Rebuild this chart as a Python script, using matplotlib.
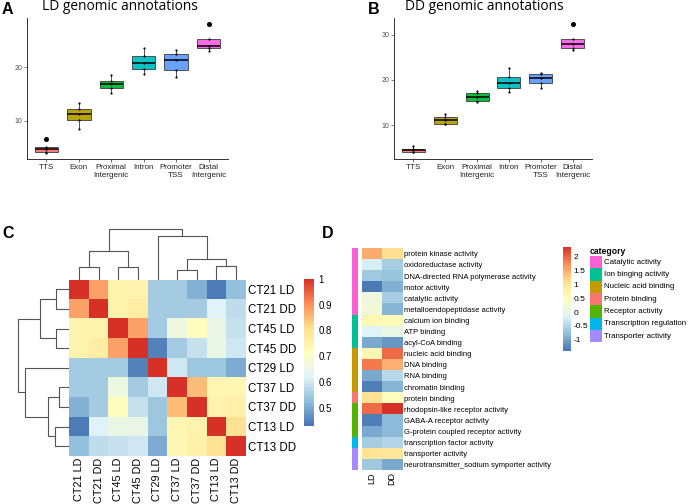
import numpy as np
import matplotlib
matplotlib.use("Agg")
import matplotlib.pyplot as plt
from matplotlib.colors import LinearSegmentedColormap, ListedColormap
from matplotlib.patches import Rectangle

plt.rcParams['font.family'] = ['Liberation Sans', 'DejaVu Sans']

# ---- panels A / B: genomic annotation boxplots ----
annotations = ["TTS", "Exon", "Proximal\nIntergenic", "Intron", "Promoter\nTSS", "Distal\nIntergenic"]
ld_values = [
    [4.1, 4.3, 4.76, 5.2, 6.7],
    [8.5, 10.1, 11.3, 12.3, 13.4],
    [15.2, 16.2, 16.85, 17.5, 18.5],
    [18.8, 19.7, 20.8, 22.0, 23.6],
    [18.1, 19.5, 21.35, 22.35, 23.2],
    [23.0, 23.6, 24.0, 25.3, 28.0],
]
dd_values = [
    [4.0, 4.17, 4.5, 4.83, 5.3],
    [10.2, 10.33, 11.05, 11.87, 12.4],
    [15.2, 15.4, 16.1, 17.0, 17.5],
    [17.3, 18.1, 19.2, 20.6, 22.5],
    [18.3, 19.2, 20.3, 21.3, 21.4],
    [26.6, 27.1, 27.85, 29.0, 32.3],
]
box_colors = ["#F8766D", "#B79F00", "#00BA38", "#00BFC4", "#619CFF", "#F564E3"]

# ---- panel C: sample correlation heatmap ----
samples = ["CT21 LD", "CT21 DD", "CT45 LD", "CT45 DD", "CT29 LD",
           "CT37 LD", "CT37 DD", "CT13 LD", "CT13 DD"]
corr = np.array([
    [1.00, 0.88, 0.75, 0.75, 0.55, 0.55, 0.51, 0.44, 0.53],
    [0.88, 1.00, 0.75, 0.77, 0.55, 0.55, 0.55, 0.62, 0.58],
    [0.75, 0.75, 1.00, 0.88, 0.55, 0.66, 0.72, 0.65, 0.59],
    [0.75, 0.77, 0.88, 1.00, 0.45, 0.55, 0.59, 0.65, 0.60],
    [0.55, 0.55, 0.55, 0.45, 1.00, 0.60, 0.54, 0.54, 0.50],
    [0.55, 0.55, 0.66, 0.55, 0.60, 1.00, 0.85, 0.74, 0.74],
    [0.51, 0.55, 0.72, 0.59, 0.54, 0.85, 1.00, 0.75, 0.76],
    [0.44, 0.62, 0.65, 0.65, 0.54, 0.74, 0.75, 1.00, 0.80],
    [0.53, 0.58, 0.59, 0.60, 0.50, 0.74, 0.76, 0.80, 1.00],
])
# merges (left node, right node, height); new nodes numbered from 9
merges = [
    (0, 1, 11.8),
    (2, 3, 12.2),
    (5, 6, 9.4),
    (7, 8, 12.6),
    (11, 12, 20.5),
    (9, 10, 27.8),
    (4, 13, 42.8),
    (14, 15, 50.0),
]

# ---- panel D: GO term heatmap ----
go_terms = [
    "protein kinase activity", "oxidoreductase activity",
    "DNA-directed RNA polymerase activity", "motor activity",
    "catalytic activity", "metalloendopeptidase activity",
    "calcium ion binding", "ATP binding", "acyl-CoA binding",
    "nucleic acid binding", "DNA binding", "RNA binding", "chromatin binding",
    "protein binding", "rhodopsin-like receptor activity",
    "GABA-A receptor activity", "G-protein coupled receptor activity",
    "transcription factor activity", "transporter activity",
    "neurotransmitter_sodium symporter activity",
]
go_category = [0, 0, 0, 0, 0, 0, 1, 1, 1, 2, 2, 2, 2, 3, 4, 4, 4, 5, 6, 6]
go_ld = [1.5, -0.2, -0.65, -1.35, 0.15, 0.2, 0.6, -0.15, -0.95, 0.65,
         1.85, -0.95, -1.3, 1.05, 1.95, -1.3, -0.95, -0.6, 1.0, -0.65]
go_dd = [1.1, -0.6, -0.7, -0.9, -0.6, -0.85, 0.55, 0.05, -1.1, 1.95,
         1.45, -0.45, -0.85, 0.5, 2.35, -0.8, -0.8, -0.5, 0.95, -0.95]
go_columns = ["LD", "DD"]
category_names = ["Catalytic activity", "Ion binging activity", "Nucleic acid binding",
                  "Protein binding", "Receptor activity", "Transcription regulation",
                  "Transporter activity"]
category_colors = ["#FB61D7", "#00C094", "#C49A00", "#F8766D", "#53B400", "#00B6EB", "#A58AFF"]

pheat = LinearSegmentedColormap.from_list(
    "pheat", ["#4575B4", "#91BFDB", "#E0F3F8", "#FFFFBF", "#FEE090", "#FC8D59", "#D73027"])

W, H = 689, 504
fig = plt.figure(figsize=(W / 100, H / 100), dpi=100)


def px_axes(x0, y0, x1, y1):
    return fig.add_axes([x0 / W, 1 - y1 / H, (x1 - x0) / W, (y1 - y0) / H])


def px_text(x, y, s, **kw):
    fig.text(x / W, 1 - y / H, s, **kw)


def box_panel(ax, values, yticks):
    pos = np.arange(1, len(values) + 1)
    bp = ax.boxplot(values, positions=pos, widths=0.72, patch_artist=True, showcaps=False,
                    medianprops=dict(color="black", lw=1.1),
                    whiskerprops=dict(color="#333333", lw=0.6),
                    boxprops=dict(edgecolor="#333333", lw=0.6),
                    flierprops=dict(marker="o", markersize=2.6, markerfacecolor="black",
                                    markeredgecolor="black"))
    for patch, c in zip(bp["boxes"], box_colors):
        patch.set_facecolor(c)
        patch.set_alpha(0.95)
        patch.set_edgecolor("#333333")
    for p, v in zip(pos, values):
        ax.scatter(np.full(len(v), p), v, s=2.5, color="black", zorder=4, lw=0)
    allv = np.concatenate(values)
    rng = allv.max() - allv.min()
    ax.set_ylim(allv.min() - 0.05 * rng, allv.max() + 0.05 * rng)
    ax.set_xlim(0.4, len(values) + 0.6)
    ax.set_xticks(pos)
    ax.set_xticklabels(annotations, fontsize=5.8, color="#222222", linespacing=1.2)
    ax.set_yticks(yticks)
    ax.tick_params(axis="y", labelsize=5, colors="#4d4d4d", length=2, width=0.5, pad=1.5)
    ax.tick_params(axis="x", length=2, width=0.5, pad=1.5, color="#333333")
    for s in ["top", "right"]:
        ax.spines[s].set_visible(False)
    for s in ["left", "bottom"]:
        ax.spines[s].set_color("#333333")
        ax.spines[s].set_linewidth(0.7)


axA = px_axes(27, 17.7, 228, 159)
box_panel(axA, ld_values, [10, 20])
axB = px_axes(394.3, 17.7, 591.7, 158.7)
box_panel(axB, dd_values, [10, 20, 30])

px_text(41.7, 10.5, "LD genomic annotations", fontsize=9.9, family="Open Sans", va="baseline")
px_text(405, 10.5, "DD genomic annotations", fontsize=9.9, family="Open Sans", va="baseline")
for lab, x, y in [("A", 1.5, 13.5), ("B", 368, 13.5), ("C", 2, 238), ("D", 321.5, 238)]:
    px_text(x, y, lab, fontsize=11.5, fontweight="bold", va="baseline")

# ---- panel C ----
n = len(samples)
axC = px_axes(69.3, 279.5, 245.7, 456)
imC = axC.imshow(corr, cmap=pheat, vmin=0.43, vmax=1.0, aspect="auto",
                 extent=(0, n, n, 0), interpolation="nearest")
axC.yaxis.tick_right()
axC.set_yticks(np.arange(n) + 0.5)
axC.set_yticklabels(samples, fontsize=8.3)
axC.set_xticks(np.arange(n) + 0.5)
axC.set_xticklabels(samples, fontsize=7.8, rotation=90)
axC.tick_params(axis="y", length=0, pad=2)
axC.tick_params(axis="x", length=0, pad=1.2)
for s in axC.spines.values():
    s.set_visible(False)


def draw_dendrogram(ax, orientation):
    pos = {i: i + 0.5 for i in range(n)}
    hgt = {i: 0.0 for i in range(n)}
    for k, (a, b, h) in enumerate(merges):
        xs = [pos[a], pos[a], pos[b], pos[b]]
        ys = [hgt[a], h, h, hgt[b]]
        if orientation == "top":
            ax.plot(xs, ys, color="#555555", lw=0.8, clip_on=False)
        else:
            ax.plot(ys, xs, color="#555555", lw=0.8, clip_on=False)
        pos[n + k] = (pos[a] + pos[b]) / 2
        hgt[n + k] = h
    ax.axis("off")


axRowD = px_axes(18, 279.5, 68, 456)
draw_dendrogram(axRowD, "left")
axRowD.set_xlim(50, 0)
axRowD.set_ylim(n, 0)

axColD = px_axes(69.3, 229, 245.7, 279)
draw_dendrogram(axColD, "top")
axColD.set_ylim(0, 50)
axColD.set_xlim(0, n)

caxC = px_axes(304, 279, 314, 425.7)
cbC = fig.colorbar(imC, cax=caxC, ticks=[0.5, 0.6, 0.7, 0.8, 0.9, 1.0])
cbC.set_ticklabels(["0.5", "0.6", "0.7", "0.8", "0.9", "1"])
cbC.outline.set_visible(False)
caxC.tick_params(length=0, labelsize=7, pad=3)

# ---- panel D ----
m = len(go_terms)
axStrip = px_axes(352.3, 248.3, 358.3, 470.3)
axStrip.imshow(np.array(go_category)[:, None], cmap=ListedColormap(category_colors),
               vmin=-0.5, vmax=len(category_colors) - 0.5, aspect="auto",
               extent=(0, 1, m, 0), interpolation="nearest")
axStrip.axis("off")

axD = px_axes(361.7, 248.3, 402.3, 470.3)
imD = axD.imshow(np.column_stack([go_ld, go_dd]), cmap=pheat, vmin=-1.4, vmax=2.35,
                 aspect="auto", extent=(0, 2, m, 0), interpolation="nearest")
axD.yaxis.tick_right()
axD.set_yticks(np.arange(m) + 0.5)
axD.set_yticklabels(go_terms, fontsize=5.5)
axD.set_xticks(np.arange(2) + 0.5)
axD.set_xticklabels(go_columns, fontsize=6.5, rotation=90)
axD.tick_params(length=0, pad=1.5)
for s in axD.spines.values():
    s.set_visible(False)

caxD = px_axes(563, 246.7, 570.5, 351)
cbD = fig.colorbar(imD, cax=caxD, ticks=[-1, -0.5, 0, 0.5, 1, 1.5, 2])
cbD.set_ticklabels(["-1", "-0.5", "0", "0.5", "1", "1.5", "2"])
cbD.outline.set_visible(False)
caxD.tick_params(length=0, labelsize=6, pad=2)

# category legend
axLeg = px_axes(588, 244, 689, 343)
axLeg.set_xlim(0, 101)
axLeg.set_ylim(99, 0)
axLeg.axis("off")
axLeg.text(2, 7, "category", fontsize=6.2, fontweight="bold", va="center")
for i, (name, c) in enumerate(zip(category_names, category_colors)):
    y = 12 + i * 12.3
    axLeg.add_patch(Rectangle((2, y), 11.7, 12.3, facecolor=c, edgecolor="none"))
    axLeg.text(16, y + 6.2, name, fontsize=5.7, va="center")

fig.savefig("out.png", dpi=100)
